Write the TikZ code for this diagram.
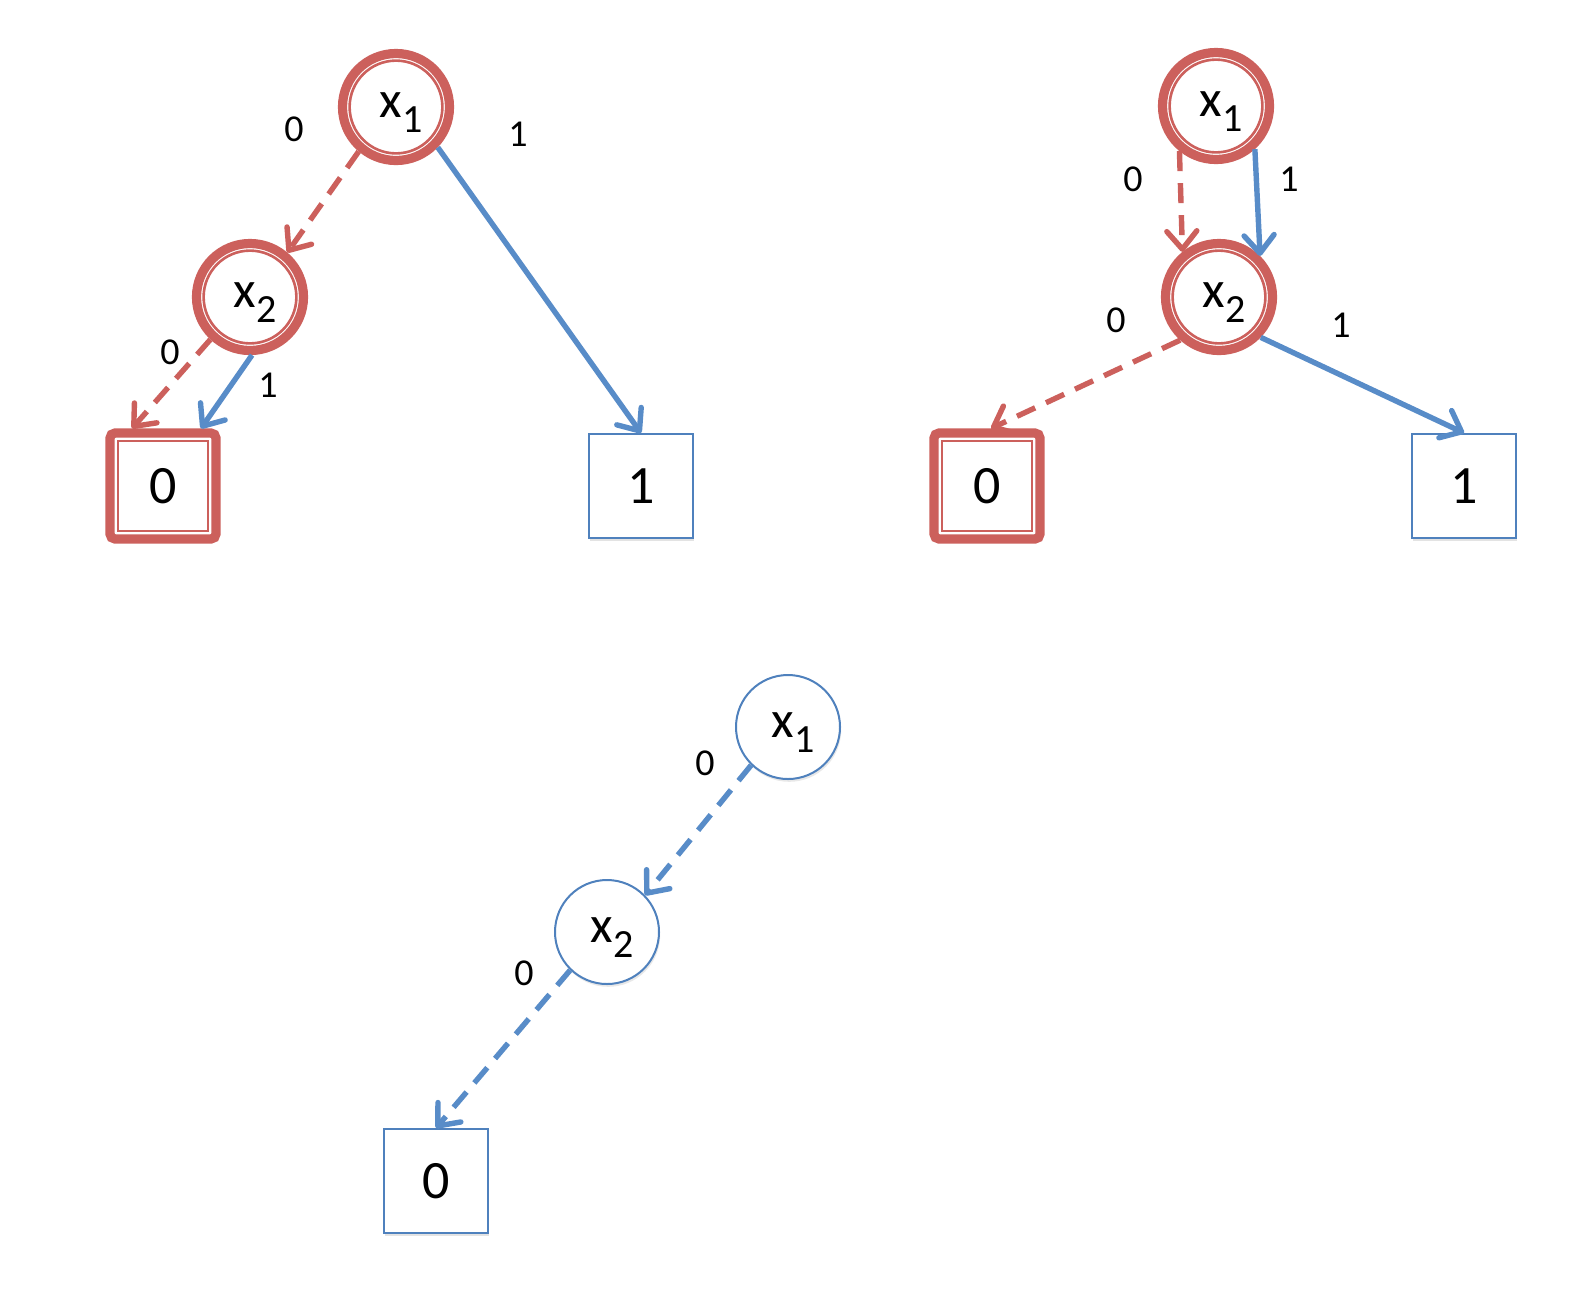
\documentclass[tikz,border=0pt]{standalone}
\usepackage{fontspec}
\setmainfont{Carlito}
\usetikzlibrary{arrows.meta,shadows}
\definecolor{ored}{RGB}{204,96,92}
\definecolor{oblue}{RGB}{88,140,200}
\definecolor{obluel}{RGB}{79,129,189}
\newcommand\xvar[1]{\hspace*{5pt}{\fontsize{26pt}{30pt}\selectfont x\raisebox{-7.5pt}{\fontsize{20pt}{24pt}\selectfont #1}}}
\begin{document}
\begin{tikzpicture}[x=0.5pt,y=-0.5pt,
  vnode/.style={circle,fill=white,inner sep=0pt,minimum size=52pt,
    text height=12.1pt,text depth=2pt,
    drop shadow={opacity=0.18,shadow xshift=0.6pt,shadow yshift=-1.4pt}},
  plainv/.style={vnode,draw=obluel,line width=1pt},
  hiv/.style={vnode,draw=ored,line width=4.6pt,minimum size=53.5pt,
    path picture={\draw[ored,line width=1.3pt] (path picture bounding box.center) circle (23.2pt);}},
  tnode/.style={rectangle,fill=white,inner sep=0pt,minimum size=52pt,
    font=\fontsize{27pt}{32pt}\selectfont,
    drop shadow={opacity=0.22,shadow xshift=0.6pt,shadow yshift=-1.6pt}},
  plaint/.style={tnode,draw=obluel,line width=1pt},
  hit/.style={tnode,draw=ored,line width=4.6pt,minimum size=53pt,rounded corners=2.5pt,
    path picture={\draw[ored,line width=1.3pt,sharp corners]
      ([shift={(-22.5pt,-22.5pt)}]path picture bounding box.center) rectangle
      ([shift={(22.5pt,22.5pt)}]path picture bounding box.center);}},
  edge/.style={line width=2.7pt,-{Straight Barb[length=9pt,width=15pt,round]}},
  solidb/.style={edge,draw=oblue},
  dashb/.style={edge,draw=oblue,dash pattern=on 10pt off 6pt},
  dashr/.style={edge,draw=ored,dash pattern=on 10pt off 6pt},
  lab/.style={font=\fontsize{19pt}{22pt}\selectfont,inner sep=0pt}
]
\fill[white] (0,0) rectangle (1594,1308);
\useasboundingbox (0,0) rectangle (1594,1308);

% top-left diagram
\node[hiv] (a1) at (396,107) {\xvar{1}};
\node[hiv] (a2) at (250,297) {\xvar{2}};
\node[hit] (a0) at (163,486) {0};
\node[plaint] (aT) at (641,486) {1};
\draw[dashr] (a1.230) -- (a2.50);
\draw[solidb] (a1.316) -- (aT.north);
\draw[dashr] (a2.227) -- ([xshift=-15.5pt]a0.north);
\draw[solidb] (a2.272) -- ([xshift=19pt]a0.north);
\node[lab] (la1) at (294,129) {0};
\node[lab] (la2) at (518,134) {1};
\node[lab] (la3) at (170,352) {0};
\node[lab] (la4) at (268,385) {1};

% top-right diagram
\node[hiv] (b1) at (1216,106) {\xvar{1}};
\node[hiv] (b2) at (1219,297) {\xvar{2}};
\node[hit] (b0) at (987,486) {0};
\node[plaint] (bT) at (1464,486) {1};
\draw[dashr] (b1.231) -- (b2.129);
\draw[solidb] (b1.312) -- (b2.45);
\draw[dashr] (b2.228) -- ([xshift=2pt]b0.north);
\draw[solidb] (b2.316) -- (bT.north);
\node[lab] (lb1) at (1133,179) {0};
\node[lab] (lb2) at (1289,179) {1};
\node[lab] (lb3) at (1116,320) {0};
\node[lab] (lb4) at (1341,325) {1};

% bottom diagram
\node[plainv] (c1) at (788,727) {\xvar{1}};
\node[plainv] (c2) at (607,932) {\xvar{2}};
\node[plaint] (c0) at (436,1181) {0};
\draw[dashb] (c1.226) -- (c2.44);
\draw[dashb] (c2.226) -- (c0.north);
\node[lab] (lc1) at (705,763) {0};
\node[lab] (lc2) at (524,973) {0};
\end{tikzpicture}
\end{document}
